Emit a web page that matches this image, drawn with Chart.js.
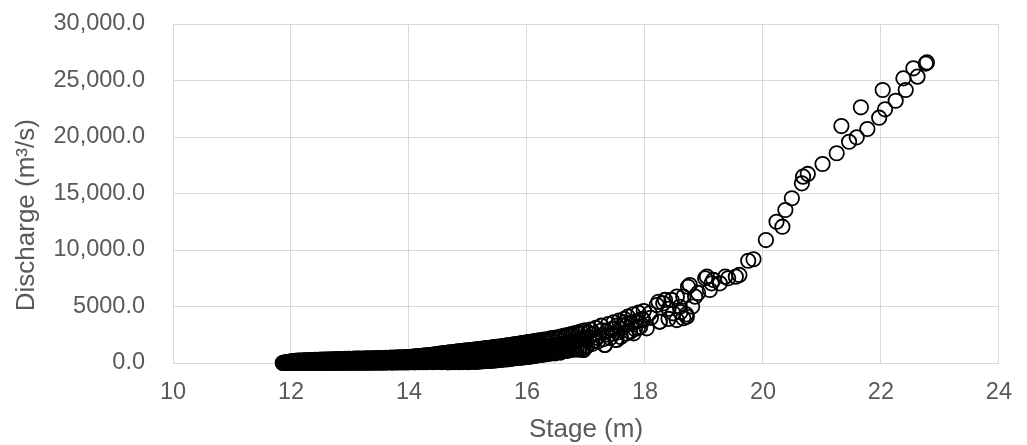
<!DOCTYPE html>
<html>
<head>
<meta charset="utf-8">
<script src="https://cdn.jsdelivr.net/npm/chart.js@4.4.1/dist/chart.umd.min.js"></script>
<style>
  body { margin: 0; background: #fff; }
  #wrap { width: 1027px; height: 445px; }
</style>
</head>
<body>
<div id="wrap"><canvas id="chartCanvas" width="1027" height="445"></canvas></div>
<script>
// tick labels as shown on the axes
const xTickValues = [10, 12, 14, 16, 18, 20, 22, 24];
const yTickLabels = ['0.0', '5000.0', '10,000.0', '15,000.0', '20,000.0', '25,000.0', '30,000.0'];

// lower edge of the dense band (stage m / discharge m3/s)
const bandLowStage = [
  11.86, 11.88, 11.91, 11.94, 11.97, 12.00, 12.02, 12.05, 12.08, 12.11,
  12.14, 12.17, 12.19, 12.22, 12.25, 12.28, 12.31, 12.33, 12.36, 12.39,
  12.42, 12.45, 12.47, 12.50, 12.53, 12.56, 12.59, 12.61, 12.64, 12.67,
  12.70, 12.73, 12.75, 12.78, 12.81, 12.84, 12.87, 12.89, 12.92, 12.95,
  12.98, 13.01, 13.03, 13.06, 13.09, 13.12, 13.15, 13.17, 13.20, 13.23,
  13.26, 13.29, 13.31, 13.34, 13.37, 13.40, 13.43, 13.45, 13.48, 13.51,
  13.54, 13.57, 13.59, 13.62, 13.65, 13.68, 13.71, 13.73, 13.76, 13.79,
  13.82, 13.85, 13.87, 13.90, 13.93, 13.96, 13.99, 14.01, 14.04, 14.07,
  14.10, 14.13, 14.15, 14.18, 14.21, 14.24, 14.27, 14.29, 14.32, 14.35,
  14.38, 14.41, 14.43, 14.46, 14.49, 14.52, 14.55, 14.57, 14.60, 14.63,
  14.66, 14.69, 14.71, 14.74, 14.77, 14.80, 14.83, 14.85, 14.88, 14.91,
  14.94, 14.97, 14.99, 15.02, 15.05, 15.08, 15.11, 15.13, 15.16, 15.19,
  15.22, 15.25, 15.27, 15.30, 15.33, 15.36, 15.39, 15.41, 15.44, 15.47,
  15.50, 15.53, 15.55, 15.58, 15.61, 15.64, 15.67, 15.69, 15.72, 15.75,
  15.78, 15.81, 15.83, 15.86, 15.89, 15.92, 15.95, 15.97, 16.00, 16.03,
  16.06, 16.09, 16.11, 16.14, 16.17
];
const bandLowQ = [
  0, 0, 10, 0, 20, 0, 10, 0, 20, 0,
  10, 0, 20, 0, 10, 30, 0, 20, 10, 0,
  20, 10, 0, 30, 10, 20, 0, 30, 10, 20,
  0, 30, 20, 10, 40, 20, 10, 30, 20, 40,
  20, 30, 10, 40, 30, 20, 50, 30, 40, 20,
  40, 30, 50, 20, 40, 50, 30, 60, 40, 50,
  30, 60, 50, 40, 70, 50, 60, 40, 70, 60,
  50, 70, 60, 80, 50, 70, 60, 90, 70, 80,
  60, 90, 80, 70, 100, 80, 90, 70, 110, 90,
  100, 80, 110, 90, 120, 100, 80, 130, 110, 120,
  60, 90, 70, 100, 80, 110, 90, 70, 100, 80,
  90, 110, 80, 120, 100, 130, 110, 90, 130, 120,
  150, 170, 160, 190, 180, 200, 190, 220, 210, 240,
  250, 280, 270, 300, 320, 310, 350, 340, 380, 390,
  430, 420, 460, 450, 490, 480, 520, 510, 560, 540,
  590, 620, 600, 650, 680
];

// upper edge of the dense band
const bandHighStage = [
  11.87, 11.90, 11.93, 11.96, 11.99, 12.01, 12.04, 12.07, 12.10, 12.12,
  12.15, 12.18, 12.21, 12.24, 12.27, 12.29, 12.32, 12.35, 12.38, 12.41,
  12.43, 12.46, 12.49, 12.52, 12.55, 12.57, 12.60, 12.63, 12.66, 12.69,
  12.71, 12.74, 12.77, 12.80, 12.83, 12.85, 12.88, 12.91, 12.94, 12.97,
  12.99, 13.02, 13.05, 13.08, 13.11, 13.13, 13.16, 13.19, 13.22, 13.25,
  13.27, 13.30, 13.33, 13.36, 13.39, 13.41, 13.44, 13.47, 13.50, 13.53,
  13.55, 13.58, 13.61, 13.64, 13.67, 13.69, 13.72, 13.75, 13.78, 13.81,
  13.83, 13.86, 13.89, 13.92, 13.95, 13.97, 14.00, 14.03, 14.06, 14.09,
  14.11, 14.14, 14.17, 14.20, 14.23, 14.25, 14.28, 14.31, 14.34, 14.37,
  14.39, 14.42, 14.45, 14.48, 14.51, 14.53, 14.56, 14.59, 14.62, 14.65,
  14.67, 14.70, 14.73, 14.76, 14.79, 14.81, 14.84, 14.87, 14.90, 14.93,
  14.95, 14.98, 15.01, 15.04, 15.07, 15.09, 15.12, 15.15, 15.18, 15.21,
  15.23, 15.26, 15.29, 15.32, 15.35, 15.37, 15.40, 15.43, 15.46, 15.49,
  15.51, 15.54, 15.57, 15.60, 15.63, 15.65, 15.68, 15.71, 15.74, 15.77,
  15.79, 15.82, 15.85, 15.88, 15.91, 15.93, 15.96, 15.99, 16.02, 16.05,
  16.07, 16.10, 16.13, 16.16, 16.19
];
const bandHighQ = [
  20, 50, 80, 100, 130, 150, 170, 180, 200, 210,
  220, 200, 230, 240, 220, 250, 240, 260, 250, 270,
  260, 280, 270, 290, 280, 300, 290, 310, 300, 320,
  310, 330, 320, 340, 330, 350, 340, 360, 350, 370,
  360, 350, 370, 380, 360, 390, 380, 370, 400, 390,
  380, 410, 400, 390, 420, 410, 400, 430, 420, 440,
  430, 420, 450, 440, 460, 450, 470, 460, 480, 470,
  490, 480, 500, 510, 500, 530, 520, 540, 550, 560,
  580, 590, 600, 620, 630, 650, 660, 680, 690, 710,
  720, 750, 760, 790, 800, 830, 840, 870, 880, 900,
  920, 940, 950, 970, 990, 1000, 1020, 1040, 1050, 1080,
  1090, 1100, 1120, 1140, 1150, 1170, 1190, 1200, 1220, 1240,
  1260, 1270, 1290, 1310, 1320, 1350, 1360, 1380, 1400, 1420,
  1440, 1460, 1480, 1500, 1520, 1540, 1560, 1590, 1600, 1630,
  1650, 1670, 1700, 1720, 1740, 1760, 1790, 1810, 1840, 1860,
  1880, 1900, 1930, 1960, 1990
];

// middle of the band where it gets wider
const bandMidStage = [
  14.21, 14.26, 14.30, 14.35, 14.40, 14.44, 14.49, 14.54, 14.58, 14.63,
  14.68, 14.72, 14.77, 14.82, 14.86, 14.91, 14.96, 15.00, 15.05, 15.10,
  15.14, 15.19, 15.24, 15.28, 15.33, 15.38, 15.42, 15.47, 15.52, 15.56,
  15.61, 15.66, 15.70, 15.75, 15.80, 15.84, 15.89, 15.94, 15.98, 16.03,
  16.08, 16.12, 16.17
];
const bandMidQ = [
  340, 360, 380, 400, 420, 430, 460, 480, 500, 510,
  530, 550, 570, 590, 600, 620, 650, 660, 690, 710,
  730, 750, 780, 800, 820, 850, 870, 900, 930, 950,
  980, 1010, 1040, 1070, 1100, 1130, 1160, 1190, 1220, 1250,
  1290, 1320, 1360
];

// 16.2 - 18 m, rings start to separate
const scatterStage = [
  16.21, 16.24, 16.27, 16.30, 16.33, 16.36, 16.39, 16.42, 16.45, 16.48,
  16.51, 16.54, 16.57, 16.60, 16.63, 16.66, 16.69, 16.72, 16.75, 16.78,
  16.81, 16.84, 16.87, 16.90, 16.93, 16.96, 16.99,
  16.22, 16.26, 16.30, 16.34, 16.38, 16.42, 16.46, 16.50, 16.54, 16.58,
  16.62, 16.66, 16.70, 16.74, 16.78, 16.82, 16.86, 16.90, 16.94, 16.98,
  16.23, 16.27, 16.31, 16.35, 16.39, 16.43, 16.47, 16.51, 16.55, 16.59,
  16.63, 16.67, 16.71, 16.75, 16.79, 16.83, 16.87, 16.91, 16.95, 16.99,
  17.02, 17.05, 17.08, 17.11, 17.14, 17.17, 17.20, 17.23, 17.26, 17.29,
  17.32, 17.35, 17.38, 17.41, 17.44, 17.47, 17.50, 17.53, 17.56, 17.59,
  17.62, 17.65, 17.68, 17.71, 17.74, 17.77, 17.80, 17.83, 17.86, 17.89,
  17.92, 17.95, 17.98, 17.04, 17.15, 17.27, 17.38, 17.52, 17.66, 17.81,
  16.68, 16.95, 17.32, 17.52, 17.75, 17.88, 17.18, 17.45, 17.70, 17.60
];
const scatterQ = [
  700, 760, 720, 800, 780, 850, 820, 880, 900, 860,
  950, 1000, 920, 1050, 1100, 1150, 1080, 1200, 1150, 1250,
  1200, 1300, 1180, 1350, 1250, 1150, 1400,
  1350, 1400, 1420, 1450, 1500, 1520, 1560, 1600, 1640, 1680,
  1700, 1750, 1800, 1850, 1880, 1950, 2000, 2050, 2100, 2150,
  2000, 2050, 2080, 2100, 2150, 2200, 2220, 2250, 2300, 2350,
  2400, 2450, 2480, 2550, 2600, 2650, 2700, 2780, 2820, 2900,
  1500, 2300, 2950, 1700, 2600, 3100, 1900, 2400, 3300, 2100,
  1600, 2800, 3450, 2200, 3000, 3600, 2050, 2700, 3750, 2300,
  3300, 3900, 2600, 4100, 2800, 3500, 4300, 3000, 3700, 4450,
  3200, 3900, 4600, 2700, 2000, 2900, 2500, 3300, 3600, 2630,
  1150, 1150, 1600, 2040, 2770, 3100, 2250, 2600, 3450, 3050
];

// high flows, above 18 m
const upperStage = [
  17.97, 18.03, 18.08, 18.10, 18.20, 18.23, 18.25, 18.25, 18.31, 18.34,
  18.40, 18.40, 18.45, 18.48, 18.54, 18.54, 18.59, 18.60, 18.65, 18.65,
  18.70, 18.71, 18.73, 18.76, 18.80, 18.85, 18.90, 19.02, 19.05, 19.10,
  19.13, 19.16, 19.27, 19.36, 19.41, 19.54, 19.60, 19.75, 19.84, 20.05,
  20.23, 20.33, 20.38, 20.49, 20.66, 20.68, 20.76, 21.01, 21.25, 21.33,
  21.46, 21.59, 21.66, 21.77, 21.97, 22.03, 22.07, 22.25, 22.38, 22.42,
  22.55, 22.62, 22.76, 22.78
];
const upperQ = [
  3800, 3070, 4400, 4000, 5130, 5420, 3650, 3660, 5280, 5580,
  4800, 3900, 5580, 4400, 3800, 5870, 4980, 4500, 3960, 5870,
  4300, 4100, 6750, 6900, 5000, 5870, 6200, 7500, 7640, 6460,
  7050, 7350, 7050, 7640, 7500, 7640, 7790, 9050, 9180, 10880,
  12500, 12060, 13540, 14580, 15900, 16490, 16730, 17610, 18560, 20970,
  19580, 19970, 22630, 20710, 21710, 24160, 22450, 23210, 25190, 24160,
  26080, 25340, 26500, 26600
];

function toPoints(xs, ys) {
  return xs.map((x, i) => ({ x: x, y: ys[i] }));
}

const points = [].concat(
  toPoints(bandLowStage, bandLowQ),
  toPoints(bandHighStage, bandHighQ),
  toPoints(bandMidStage, bandMidQ),
  toPoints(scatterStage, scatterQ),
  toPoints(upperStage, upperQ)
);

const tickFont = { family: 'Liberation Sans', size: 23.5 };
const titleFont = { family: 'Liberation Sans', size: 26 };
const textColor = '#595959';
const gridColor = '#d9d9d9';

const ctx = document.getElementById('chartCanvas').getContext('2d');
new Chart(ctx, {
  type: 'scatter',
  data: {
    datasets: [{
      data: points,
      pointStyle: 'circle',
      pointRadius: 7.2,
      pointHoverRadius: 7.2,
      pointBorderWidth: 1.8,
      borderColor: '#000000',
      backgroundColor: 'rgba(0,0,0,0)',
      clip: false
    }]
  },
  options: {
    responsive: false,
    devicePixelRatio: 1,
    animation: false,
    layout: { padding: { left: 0, right: 26, top: 24, bottom: 0 } },
    plugins: {
      legend: { display: false },
      tooltip: { enabled: false }
    },
    scales: {
      x: {
        type: 'linear',
        min: 10,
        max: 24,
        afterBuildTicks: scale => { scale.ticks = xTickValues.map(v => ({ value: v })); },
        ticks: { color: textColor, font: tickFont, padding: 15, maxRotation: 0 },
        grid: { color: gridColor, lineWidth: 1, drawTicks: false },
        border: { color: gridColor },
        title: { display: true, text: 'Stage (m)', color: textColor, font: titleFont, padding: { top: 0, bottom: 0 } },
        afterFit: scale => { scale.height = 82; }
      },
      y: {
        type: 'linear',
        min: 0,
        max: 30000,
        ticks: {
          stepSize: 5000,
          color: textColor,
          font: tickFont,
          padding: 28,
          callback: value => yTickLabels[Math.round(value / 5000)]
        },
        grid: { color: gridColor, lineWidth: 1, drawTicks: false },
        border: { color: gridColor },
        title: {
          display: true,
          // trailing spaces push the text down like the original
          text: 'Discharge (m\u00B3/s)      ',
          color: textColor,
          font: titleFont,
          padding: { top: 11, bottom: 0 }
        },
        afterFit: scale => {
          scale.width = 173;
          // tick padding is added to the vertical padding too, drop it
          scale.paddingTop = 14;
          scale.paddingBottom = 14;
        }
      }
    }
  }
});
</script>
</body>
</html>
